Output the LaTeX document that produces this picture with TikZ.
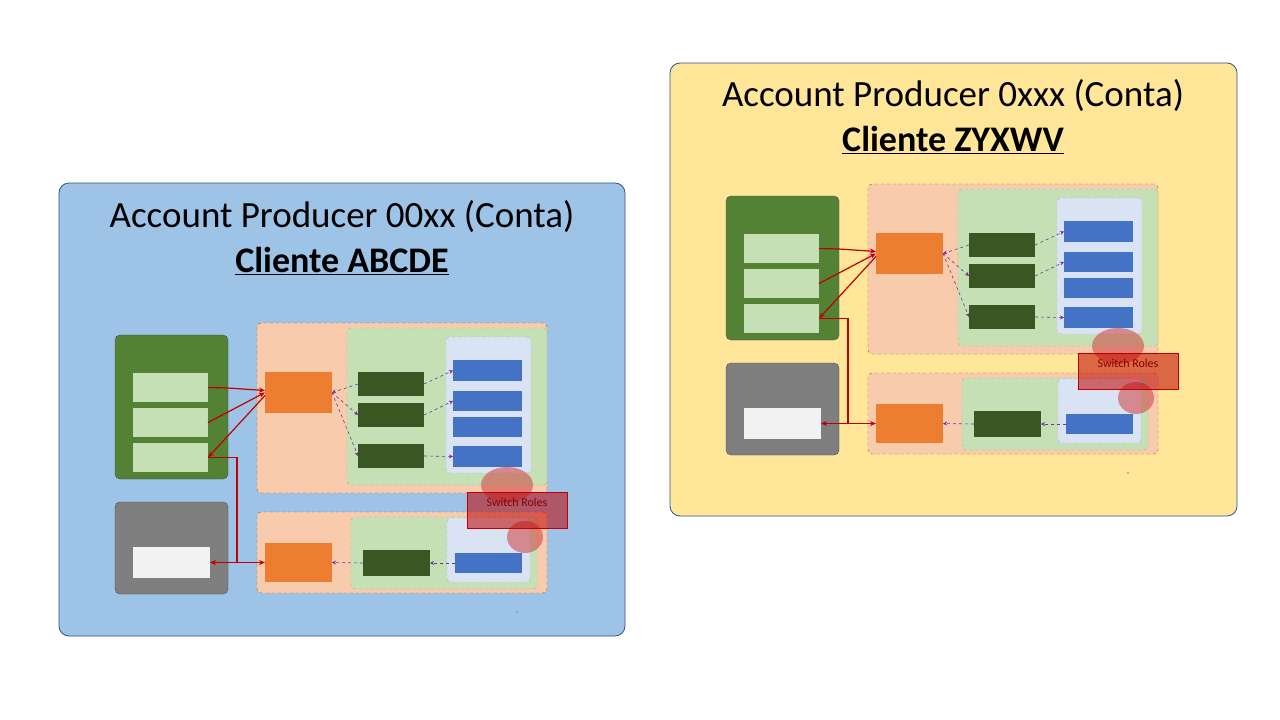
\documentclass[tikz,border=0pt]{standalone}
\usepackage{fontspec}
\setmainfont{Carlito}
\usetikzlibrary{arrows.meta}
\definecolor{panelblue}{HTML}{9DC3E6}
\definecolor{panelyellow}{HTML}{FFE699}
\definecolor{panelline}{HTML}{2F528F}
\definecolor{grn}{HTML}{548235}
\definecolor{lgrn}{HTML}{C5E0B4}
\definecolor{gry}{HTML}{7F7F7F}
\definecolor{wht}{HTML}{F2F2F2}
\definecolor{peach}{HTML}{F8CBAD}
\definecolor{orng}{HTML}{ED7D31}
\definecolor{dgrn}{HTML}{385723}
\definecolor{lblue}{HTML}{DAE3F3}
\definecolor{blu}{HTML}{4472C4}
\definecolor{redc}{HTML}{C00000}
\definecolor{purp}{HTML}{7030A0}
\definecolor{brn}{HTML}{9C5A1E}
\tikzset{
  panel/.style={draw=panelline, line width=0.8pt, rounded corners=10pt},
  titletext/.style={font=\fontsize{37}{44}\selectfont, text=black},
  clienttext/.style={font=\fontsize{36}{43}\selectfont\bfseries, text=black},
  bx/.style={anchor=north west, inner sep=0pt, outer sep=0pt},
  greenbox/.style={bx, fill=grn, draw=black!70, rounded corners=5pt},
  graybox/.style={bx, fill=gry, draw=black!70, rounded corners=5pt},
  lgbox/.style={bx, fill=lgrn},
  whitebox/.style={bx, fill=wht},
  peachbox/.style={bx, fill=peach, draw=brn, dashed, rounded corners=4pt},
  orangebox/.style={bx, fill=orng},
  regbox/.style={bx, fill=lgrn, draw=grn!60, dashed, rounded corners=4pt},
  lbluebox/.style={bx, fill=lblue, draw=blu!50, dashed, rounded corners=4pt},
  dgbox/.style={bx, fill=dgrn},
  bluebox/.style={bx, fill=blu},
  switchbox/.style={bx, fill=redc, fill opacity=0.55, draw=redc, text opacity=1},
  redline/.style={draw=redc, line width=1.2pt},
  redarrow/.style={redline, -{Stealth[length=6pt,width=5pt]}},
  purpline/.style={draw=purp, dashed, line width=0.6pt, -{Stealth[length=4pt,width=4pt]}},
  blob/.style={fill=redc!75, fill opacity=0.55}
}
\newcommand\innerdiag{%
  % left column
  \node[greenbox, minimum width=113pt, minimum height=144pt] (G) at (0,12) {};
  \node[lgbox, minimum width=75pt, minimum height=29pt] (lg1) at (18,50) {};
  \node[lgbox, minimum width=75pt, minimum height=29pt] (lg2) at (18,85) {};
  \node[lgbox, minimum width=75pt, minimum height=29pt] (lg3) at (18,120) {};
  \node[graybox, minimum width=113pt, minimum height=92pt] (Y) at (0,179) {};
  \node[whitebox, minimum width=77pt, minimum height=31pt] (wb) at (18,224) {};
  % top account
  \node[peachbox, minimum width=290pt, minimum height=170pt] (P1) at (142,0) {};
  \node[regbox, minimum width=200pt, minimum height=157pt] (R1) at (232,5) {};
  \node[lbluebox, minimum width=85pt, minimum height=136pt] (L1) at (331,14) {};
  \node[orangebox, minimum width=67pt, minimum height=41pt] (or1) at (150,49) {};
  \node[dgbox, minimum width=66pt, minimum height=24pt] (dg1) at (243,49) {};
  \node[dgbox, minimum width=66pt, minimum height=24pt] (dg2) at (243,80) {};
  \node[dgbox, minimum width=66pt, minimum height=24pt] (dg3) at (243,121) {};
  \node[bluebox, minimum width=69pt, minimum height=21pt] (b1) at (338,37) {};
  \node[bluebox, minimum width=69pt, minimum height=20pt] (b2) at (338,68) {};
  \node[bluebox, minimum width=69pt, minimum height=20pt] (b3) at (338,94) {};
  \node[bluebox, minimum width=69pt, minimum height=21pt] (b4) at (338,123) {};
  % bottom account
  \node[peachbox, minimum width=290pt, minimum height=81pt] (P2) at (142,189) {};
  \node[regbox, minimum width=186pt, minimum height=72pt] (R2) at (236,194) {};
  \node[lbluebox, minimum width=83pt, minimum height=64pt] (L2) at (332,195) {};
  \node[orangebox, minimum width=67pt, minimum height=39pt] (or2) at (150,220) {};
  \node[dgbox, minimum width=67pt, minimum height=26pt] (dg4) at (248,227) {};
  \node[bluebox, minimum width=67pt, minimum height=20pt] (b5) at (340,230) {};
  % purple connectors
  \draw[purpline] (dg1.west) -- (or1.east);
  \draw[purpline] (or1.east) -- (dg2.west);
  \draw[purpline] (or1.east) -- (dg3.west);
  \draw[purpline] (dg1.east) -- (b1.west);
  \draw[purpline] (dg2.east) -- (b2.west);
  \draw[purpline] (dg3.east) -- (b4.west);
  \draw[purpline] (dg4.west) -- (or2.east);
  \draw[purpline] (b5.west) -- (dg4.east);
  % red connectors
  \coordinate (K1) at (113,65);
  \coordinate (J1) at (122,134.5);
  \coordinate (J2) at (122,239.5);
  \draw[redarrow] (lg1.east) -- (K1) -- ([yshift=2pt]or1.west);
  \draw[redarrow] (lg2.east) -- (or1.west);
  \draw[redarrow] ([yshift=-3pt]or1.west) -- (lg3.east);
  \draw[redline] (lg3.east) -- (J1) -- (J2);
  \draw[redarrow] (J2) -- (wb.east);
  \draw[redarrow] (J2) -- (or2.west);
  % switch roles
  \fill[blob] (392,162) ellipse (26pt and 18pt);
  \fill[blob] (410,214) ellipse (18pt and 16pt);
  \node[switchbox, minimum width=100pt, minimum height=36pt] (sw) at (352,169) {};
  \node[anchor=north, inner sep=0pt, text=redc!70!black, font=\fontsize{12}{14}\selectfont] (swt) at ([yshift=-6pt]sw.north) {Switch Roles};
  \fill[gray] (402,289) circle (0.8pt);
}
\begin{document}
\begin{tikzpicture}[x=1pt, y=-1pt]
  \useasboundingbox[fill=white] (0,0) rectangle (1280,720);
  % left panel
  \node[panel, fill=panelblue, bx, minimum width=566pt, minimum height=453pt] (LP) at (59,183) {};
  \node[titletext] (LT) at (342,217) {Account Producer 00xx (Conta)};
  \node[clienttext] (LC) at (342,261) {\underline{Cliente ABCDE}};
  \begin{scope}[shift={(115,323)}, name prefix=L-]
    \innerdiag
  \end{scope}
  % right panel
  \node[panel, fill=panelyellow, bx, minimum width=567pt, minimum height=453pt] (RP) at (670,63) {};
  \node[titletext] (RT) at (953,96) {Account Producer 0xxx (Conta)};
  \node[clienttext] (RC) at (953,140) {\underline{Cliente ZYXWV}};
  \begin{scope}[shift={(726,184)}, name prefix=R-]
    \innerdiag
  \end{scope}
\end{tikzpicture}
\end{document}
